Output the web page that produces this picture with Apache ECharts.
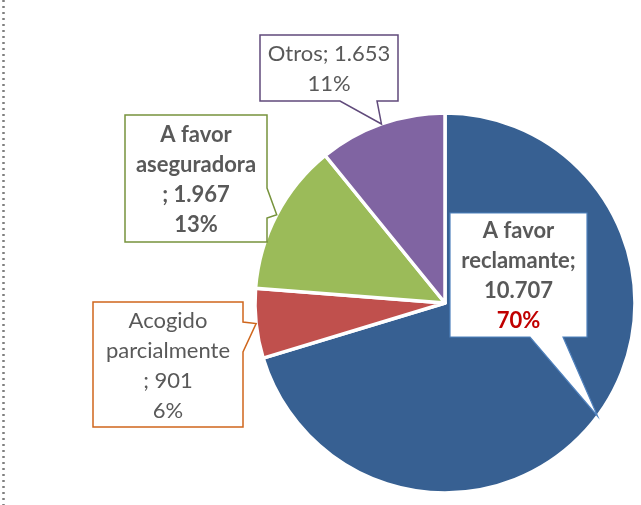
<!DOCTYPE html>
<html lang="es">
<head>
<meta charset="UTF-8">
<title>Resoluciones</title>
<script src="https://cdn.jsdelivr.net/npm/echarts@6/dist/echarts.min.js"></script>
</head>
<body style="margin:0;background:#fff">
<div id="main" style="width:641px;height:505px;"></div>
<script>
var categories = ['A favor reclamante', 'Acogido parcialmente', 'A favor aseguradora', 'Otros'];
var values = [10707, 901, 1967, 1653];
var colors = ['#376092', '#C0504D', '#9BBB59', '#8064A2'];
// how each label is wrapped in the original
var labelHeads = ['A favor\nreclamante;\n', 'Acogido\nparcialmente\n; ', 'A favor\naseguradora\n; ', 'Otros; '];
var labelBold = [true, false, true, false];
var pctColors = ['#C00000', '#595959', '#595959', '#595959'];
var boxColors = ['#4F81BD', '#CF661C', '#77933C', '#604A7B'];
// callout box: x, y, w, h, side of the pointer, pointer base start, end
var boxes = [
    [450, 213, 137, 124, 'bottom', 530, 563],
    [93, 302, 150, 125, 'right', 322, 352],
    [125, 115, 142, 127, 'right', 188, 218],
    [260, 35, 138, 66, 'bottom', 340, 377]
];

var cx = 445, cy = 303, radius = 190;
var total = values.reduce(function (a, b) { return a + b; }, 0);

function fmt(v) {
    return String(v).replace(/\B(?=(\d{3})+(?!\d))/g, '.');
}

var myChart = echarts.init(document.getElementById('main'));

var graphics = [{
    type: 'line',
    shape: { x1: 3.5, y1: 0, x2: 3.5, y2: 505 },
    style: { stroke: '#7F7F7F', lineWidth: 2.5, lineDash: [2, 4] },
    z: 1
}];

var acc = 0;
values.forEach(function (v, i) {
    // pointer tip sits on the slice edge at its mid angle
    var mid = (acc + v / 2) / total * Math.PI * 2;
    acc += v;
    var tx = cx + radius * Math.sin(mid);
    var ty = cy - radius * Math.cos(mid);
    var b = boxes[i];
    var x = b[0], y = b[1], w = b[2], h = b[3];
    var pts;
    if (b[4] === 'bottom') {
        pts = [[x, y], [x + w, y], [x + w, y + h], [b[6], y + h], [tx, ty], [b[5], y + h], [x, y + h]];
    } else {
        pts = [[x, y], [x + w, y], [x + w, b[5]], [tx, ty], [x + w, b[6]], [x + w, y + h], [x, y + h]];
    }
    graphics.push({
        type: 'polygon',
        shape: { points: pts },
        style: { fill: '#fff', stroke: boxColors[i], lineWidth: i === 0 ? 1.2 : 1.5, lineJoin: 'miter' },
        z: 10
    });
    var lines = (labelHeads[i] + fmt(v)).split('\n');
    var txt = lines.map(function (l) { return '{t|' + l + '}'; }).join('\n') +
        '\n{p|' + Math.round(v / total * 100) + '%}';
    graphics.push({
        type: 'text',
        x: x + w / 2,
        y: y + h / 2 + 1,
        z: 11,
        style: {
            text: txt,
            align: 'center',
            verticalAlign: 'middle',
            rich: {
                t: { fontFamily: 'Lato', fontSize: 22, fontWeight: labelBold[i] ? 'bold' : 'normal', fill: '#595959', lineHeight: 30, align: 'center' },
                p: { fontFamily: 'Lato', fontSize: 22, fontWeight: labelBold[i] ? 'bold' : 'normal', fill: pctColors[i], lineHeight: 30, align: 'center' }
            }
        }
    });
});

var option = {
    animation: false,
    graphic: graphics,
    series: [{
        type: 'pie',
        center: [cx, cy],
        radius: radius,
        startAngle: 90,
        clockwise: true,
        label: { show: false },
        labelLine: { show: false },
        emphasis: { disabled: true },
        itemStyle: { borderColor: '#fff', borderWidth: 3.5 },
        data: categories.map(function (c, i) {
            return { name: c, value: values[i], itemStyle: { color: colors[i] } };
        })
    }]
};
myChart.setOption(option);
</script>
</body>
</html>
